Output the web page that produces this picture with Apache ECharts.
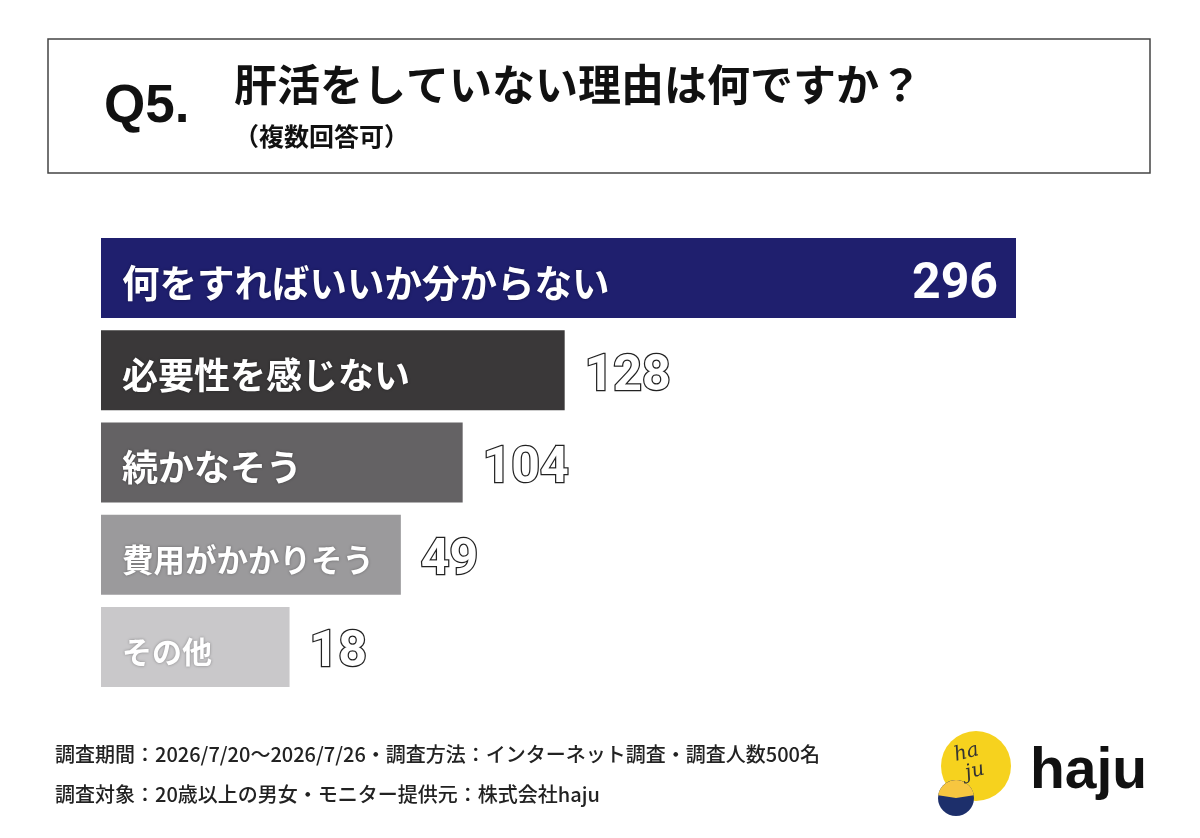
<!DOCTYPE html>
<html>
<head>
<meta charset="utf-8">
<style>
html, body { margin: 0; padding: 0; background: #fff; }
#chart { width: 1200px; height: 838px; }
</style>
<script src="https://cdn.jsdelivr.net/npm/echarts@6/dist/echarts.min.js"></script>
</head>
<body>
<div id="chart"></div>
<script>
// 回答項目
const categories = ['何をすればいいか分からない', '必要性を感じない', '続かなそう', '費用がかかりそう', 'その他']
// 回答数（ラベル表示用）
const counts = [296, 128, 104, 49, 18]
// 元画像のバーは実数比例ではないので、画像から読んだ長さ（296基準の単位）
const barLengths = [296, 150, 117, 97, 61]
const barColors = ['#1f1f6e', '#3a3839', '#646264', '#9b9a9c', '#c9c8ca']
const nameSizes = [37.5, 36, 36, 31.5, 30]

const jp = '"Noto Sans CJK JP", "Noto Sans", sans-serif'

const myChart = echarts.init(document.getElementById('chart'))

const option = {
  backgroundColor: '#fff',
  animation: false,
  grid: {
    left: 101,
    width: 915,
    top: 232,
    height: 461
  },
  xAxis: {
    type: 'value',
    min: 0,
    max: 296,
    show: false
  },
  yAxis: {
    type: 'category',
    inverse: true,
    data: categories,
    show: false
  },
  series: [
    {
      // バー本体 + 項目名
      type: 'bar',
      barWidth: 80,
      silent: true,
      data: barLengths.map((v, i) => ({
        value: v,
        itemStyle: { color: barColors[i] },
        label: { fontSize: nameSizes[i] }
      })),
      label: {
        show: true,
        position: 'insideLeft',
        distance: 21,
        offset: [0, 5],
        formatter: (p) => categories[p.dataIndex],
        color: '#fff',
        fontWeight: 'bold',
        fontFamily: jp,
        textShadowColor: 'rgba(0,0,0,0.35)',
        textShadowBlur: 3
      }
    },
    {
      // 回答数ラベル
      type: 'bar',
      barWidth: 80,
      barGap: '-100%',
      silent: true,
      itemStyle: { color: 'rgba(0,0,0,0)' },
      data: barLengths.map((v, i) => {
        if (i === 0)
        {
          return {
            value: v,
            label: {
              position: 'insideRight',
              distance: 18,
              color: '#fff',
              textBorderWidth: 0
            }
          }
        }
        return { value: v }
      }),
      label: {
        show: true,
        position: 'right',
        distance: 20,
        offset: [0, 7],
        formatter: (p) => counts[p.dataIndex],
        fontFamily: 'Roboto, sans-serif',
        fontWeight: 'bold',
        fontSize: 50,
        color: '#fff',
        textBorderColor: '#222',
        textBorderWidth: 2.5
      }
    }
  ],
  graphic: [
    // タイトル枠
    {
      type: 'rect',
      shape: { x: 48, y: 39, width: 1102, height: 134 },
      style: { fill: '#fff', stroke: '#444', lineWidth: 1.5 }
    },
    {
      type: 'text',
      left: 104,
      top: 81,
      style: {
        text: 'Q5.',
        font: 'bold 53px "Liberation Sans", Arial, sans-serif',
        fill: '#111'
      }
    },
    {
      type: 'text',
      left: 234,
      top: 63,
      style: {
        text: '肝活をしていない理由は何ですか？',
        font: 'bold 43px ' + jp,
        fill: '#111'
      }
    },
    {
      type: 'text',
      left: 234,
      top: 124,
      style: {
        text: '（複数回答可）',
        font: 'bold 25px ' + jp,
        fill: '#111'
      }
    },
    // 調査概要
    {
      type: 'text',
      left: 55,
      top: 744,
      style: {
        text: '調査期間：2026/7/20～2026/7/26・調査方法：インターネット調査・調査人数500名',
        font: '500 20px ' + jp,
        fill: '#222'
      }
    },
    {
      type: 'text',
      left: 55,
      top: 784,
      style: {
        text: '調査対象：20歳以上の男女・モニター提供元：株式会社haju',
        font: '500 20px ' + jp,
        fill: '#222'
      }
    },
    // ロゴ
    {
      type: 'circle',
      shape: { cx: 976, cy: 766, r: 35 },
      style: { fill: '#f6d21e' }
    },
    {
      type: 'circle',
      shape: { cx: 956, cy: 798, r: 18 },
      style: { fill: '#1d2f6b' }
    },
    {
      type: 'sector',
      shape: { cx: 956, cy: 798, r: 18, startAngle: Math.PI * 1.05, endAngle: Math.PI * 1.95 },
      style: { fill: '#f7c640' }
    },
    {
      type: 'text',
      left: 952,
      top: 740,
      rotation: 0.25,
      style: {
        text: 'ha\n ju',
        font: 'italic 20px "DejaVu Serif", serif',
        lineHeight: 20,
        fill: '#333'
      }
    },
    {
      type: 'text',
      left: 1030,
      top: 744,
      style: {
        text: 'haju',
        font: 'bold 57px "Liberation Sans", Arial, sans-serif',
        fill: '#111'
      }
    }
  ]
}

myChart.setOption(option)
window.addEventListener('resize', () => myChart.resize())
</script>
</body>
</html>
